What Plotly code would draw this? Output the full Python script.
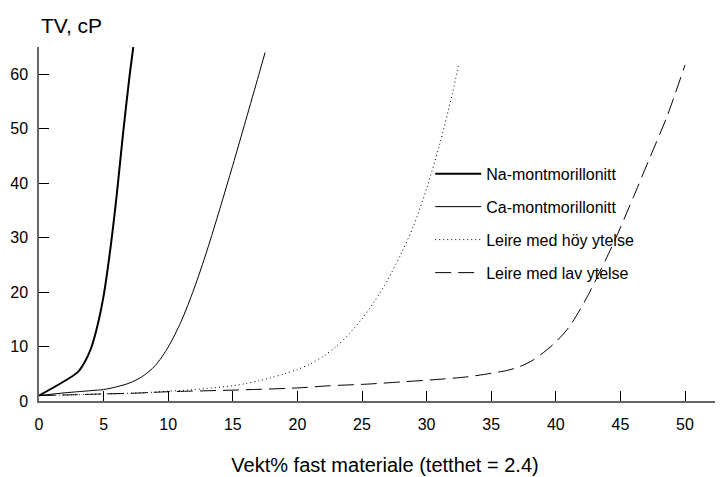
import plotly.graph_objects as go

na_x = [0, 3.0, 3.5, 4.0, 4.5, 5.0, 5.5, 6.0, 6.5, 7.0, 7.3]
na_y = [1, 5.3, 7.0, 9.5, 13.6, 19.3, 27.5, 37.5, 49, 59.5, 65]

ca_x = [0, 2, 4, 5, 6, 7, 8, 9, 10, 11, 12, 13, 14, 15, 16, 17, 17.5]
ca_y = [1, 1.5, 1.9, 2.1, 2.6, 3.3, 4.5, 6.5, 9.9, 14.6, 20.6, 27.6, 35.3, 43.3, 51.5, 59.8, 64]

hi_x = [0, 5, 8, 10, 12, 15, 16, 17, 18, 19, 20, 21, 22, 23, 24, 25, 26, 27, 28, 29, 30, 31, 32, 32.5]
hi_y = [1, 1.3, 1.5, 1.8, 2.1, 2.8, 3.2, 3.7, 4.3, 5.0, 5.8, 6.8, 8.2, 10.0, 12.3, 15.1, 18.4, 22.3, 26.9, 32.2, 39, 47, 56.5, 62]

lo_x = [0, 2, 5, 7, 10, 15, 20, 22.5, 25.4, 28, 30.5, 33, 34.5, 36.2, 37.2, 38.3, 39.8, 41, 42.4, 44.45, 46, 47.3, 48.6, 50]
lo_y = [1, 1.1, 1.3, 1.4, 1.7, 2.0, 2.4, 2.8, 3.1, 3.5, 3.9, 4.4, 4.9, 5.6, 6.3, 7.6, 10.4, 13.5, 19, 28.9, 37.4, 44.8, 52.2, 61.7]

names = ["Na-montmorillonitt", "Ca-montmorillonitt", "Leire med höy ytelse", "Leire med lav ytelse"]
x_ticks = [0, 5, 10, 15, 20, 25, 30, 35, 40, 45, 50]
y_ticks = [0, 10, 20, 30, 40, 50, 60]

fig = go.Figure()
fig.add_trace(go.Scatter(x=na_x, y=na_y, mode="lines", name=names[0], legendgroup="a",
                         line=dict(color="black", width=2, shape="spline", smoothing=0.8)))
fig.add_trace(go.Scatter(x=ca_x, y=ca_y, mode="lines", name=names[1], legendgroup="b",
                         line=dict(color="black", width=1, shape="spline", smoothing=0.8)))
fig.add_trace(go.Scatter(x=hi_x, y=hi_y, mode="lines", name=names[2], legendgroup="c",
                         line=dict(color="black", width=1, dash="1px,3px", shape="spline", smoothing=0.8)))
fig.add_trace(go.Scatter(x=lo_x, y=lo_y, mode="lines", name=names[3], legendgroup="d",
                         line=dict(color="black", width=1, dash="16px,7px", shape="spline", smoothing=0.8)))

font = "Liberation Sans, Arial, sans-serif"
fig.update_layout(
    width=723, height=477,
    margin=dict(l=31, r=0, t=39, b=84),
    paper_bgcolor="white", plot_bgcolor="white",
    font=dict(family=font, size=16, color="black"),
    showlegend=True,
    legend=dict(x=0.5653, y=0.69, xanchor="left", yanchor="top", bgcolor="rgba(0,0,0,0)",
                tracegroupgap=9.2, itemwidth=46, font=dict(size=16)),
    xaxis=dict(range=[0, 53.56], tickvals=x_ticks, ticks="inside", ticklen=10, tickwidth=1,
               tickcolor="black", showline=True, linecolor="#666", linewidth=2,
               showgrid=False, zeroline=False, ticklabelstandoff=8, automargin=False,
               title=dict(text="Vekt% fast materiale (tetthet = 2.4)", font=dict(size=20), standoff=26)),
    yaxis=dict(range=[0, 65], tickvals=y_ticks, ticks="inside", ticklen=10, tickwidth=1,
               tickcolor="black", showline=True, linecolor="#666", linewidth=1.5,
               showgrid=False, zeroline=False, ticklabelstandoff=6, automargin=False),
    annotations=[dict(text="TV, cP", xref="paper", yref="paper", x=0, y=1.0, yshift=22,
                      xanchor="left", yanchor="middle", showarrow=False, font=dict(size=21))],
)
fig.write_html("out.html")
